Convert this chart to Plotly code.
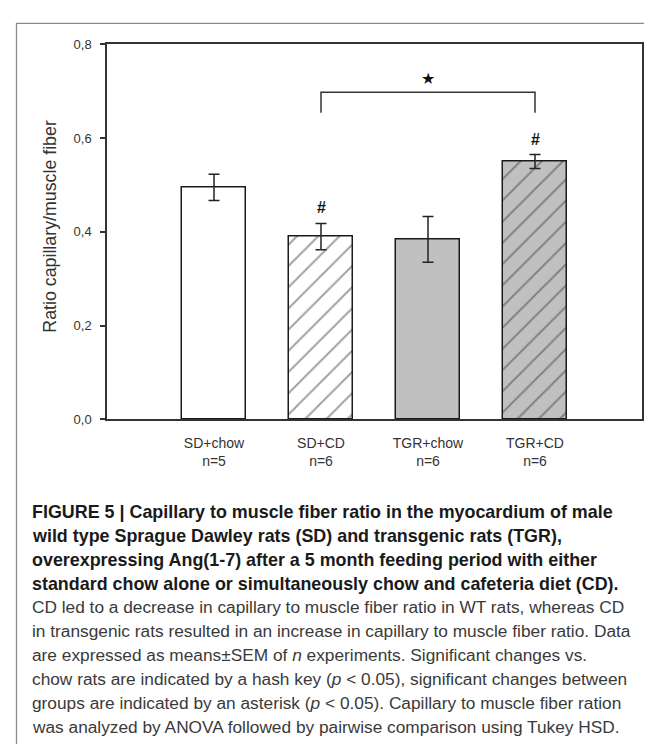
import plotly.graph_objects as go

# ---------------- data ----------------
categories = ["SD+chow", "SD+CD", "TGR+chow", "TGR+CD"]
n_labels = ["n=5", "n=6", "n=6", "n=6"]
means = [0.495, 0.390, 0.384, 0.550]
sems = [0.028, 0.028, 0.049, 0.015]
hash_marks = ["", "#", "", "#"]
fills = ["#ffffff", "#ffffff", "#c0c0c0", "#c0c0c0"]
hatches = ["", "/", "", "/"]
y_ticks = [0.0, 0.2, 0.4, 0.6, 0.8]
bracket_groups = [2, 4]          # 1-based group indices joined by the bracket
bracket_top = 0.698
bracket_leg = 0.654
star_label = "★"

caption_bold = [
    "FIGURE 5 | Capillary to muscle fiber ratio in the myocardium of male",
    "wild type Sprague Dawley rats (SD) and transgenic rats (TGR),",
    "overexpressing Ang(1-7) after a 5 month feeding period with either",
    "standard chow alone or simultaneously chow and cafeteria diet (CD).",
]
caption_regular = [
    "CD led to a decrease in capillary to muscle fiber ratio in WT rats, whereas CD",
    "in transgenic rats resulted in an increase in capillary to muscle fiber ratio. Data",
    "are expressed as means±SEM of <i>n</i> experiments. Significant changes vs.",
    "chow rats are indicated by a hash key (<i>p</i> &lt; 0.05), significant changes between",
    "groups are indicated by an asterisk (<i>p</i> &lt; 0.05). Capillary to muscle fiber ration",
    "was analyzed by ANOVA followed by pairwise comparison using Tukey HSD.",
]

# ---------------- layout constants (pixels) ----------------
W, H = 652, 744
plot_left, plot_right = 99, 634
plot_top, plot_bottom = 30, 412.7
AX = "#333333"
FONT = "Liberation Sans, Arial"

positions = [i + 1 for i in range(len(categories))]
ticktext = [f"{c}<br>{n}" for c, n in zip(categories, n_labels)]

fig = go.Figure()
fig.add_trace(go.Bar(
    x=positions, y=means, width=0.6,
    marker=dict(
        color=fills,
        line=dict(color="#1a1a1a", width=1.5),
        pattern=dict(shape=hatches, fgcolor="#111111", bgcolor=fills,
                     size=15, solidity=0.13),
    ),
    error_y=dict(type="data", array=sems, color="#222222",
                 thickness=1.5, width=5.5),
    hoverinfo="skip", showlegend=False,
))

# significance bracket
bx = [bracket_groups[0], bracket_groups[0], bracket_groups[1], bracket_groups[1]]
by = [bracket_leg, bracket_top, bracket_top, bracket_leg]
fig.add_trace(go.Scatter(x=bx, y=by, mode="lines",
                         line=dict(color=AX, width=1.5),
                         hoverinfo="skip", showlegend=False))

annotations = []
for p, m, s, h in zip(positions, means, sems, hash_marks):
    if h:
        annotations.append(dict(x=p, y=m + s, xref="x", yref="y", text=f"<b>{h}</b>",
                                showarrow=False, yanchor="bottom", yshift=5,
                                font=dict(family=FONT, size=16, color="#111111")))
annotations.append(dict(x=sum(bracket_groups) / 2, y=bracket_top, xref="x", yref="y",
                        text=star_label, showarrow=False, yanchor="bottom", yshift=2,
                        font=dict(family="DejaVu Sans", size=16, color="#111111")))

# y-axis title
annotations.append(dict(x=42 / W, y=(H - 216) / H,
                        xref="paper", yref="paper", text="Ratio capillary/muscle fiber",
                        textangle=-90, showarrow=False, xanchor="center", yanchor="middle",
                        font=dict(family=FONT, size=17.8, color="#333333")))

# caption
cap_x = 22
cap_y0 = 507
cap_dy = 24.4
for i, line in enumerate(caption_bold + caption_regular):
    bold = i < len(caption_bold)
    annotations.append(dict(
        x=cap_x / W, y=(H - (cap_y0 + i * cap_dy)) / H, xref="paper", yref="paper",
        text=f"<b>{line}</b>" if bold else line, showarrow=False,
        xanchor="left", yanchor="middle", align="left",
        font=dict(family=FONT, size=17.9 if bold else 17.3,
                  color="#1a1a1a" if bold else "#3a3a3a")))

fig.update_layout(
    width=W, height=H, autosize=False,
    margin=dict(l=0, r=0, t=0, b=0),
    paper_bgcolor="white", plot_bgcolor="white",
    separators=",.",
    bargap=0,
    annotations=annotations,
    shapes=[dict(type="rect", xref="paper", yref="paper",
                 x0=8.5 / W, x1=1.05, y0=-0.05, y1=(H - 8.5) / H,
                 line=dict(color="#8a8a8a", width=1.3), layer="below")],
    xaxis=dict(domain=[plot_left / W, plot_right / W], range=[0, len(categories) + 1],
               tickvals=positions, ticktext=ticktext, ticks="",
               showline=True, mirror=True, linecolor=AX, linewidth=1.5,
               showgrid=False, zeroline=False, ticklabelstandoff=10,
               tickfont=dict(family=FONT, size=14, color="#333333")),
    yaxis=dict(domain=[(H - plot_bottom) / H, (H - plot_top) / H], range=[0, 0.8],
               tickvals=y_ticks, tickformat=".1f", ticks="outside", ticklen=5,
               tickwidth=1.5, tickcolor=AX,
               showline=True, mirror=True, linecolor=AX, linewidth=1.5,
               showgrid=False, zeroline=False, ticklabelstandoff=6,
               tickfont=dict(family=FONT, size=13, color="#333333")),
)

fig.write_html("out.html")
